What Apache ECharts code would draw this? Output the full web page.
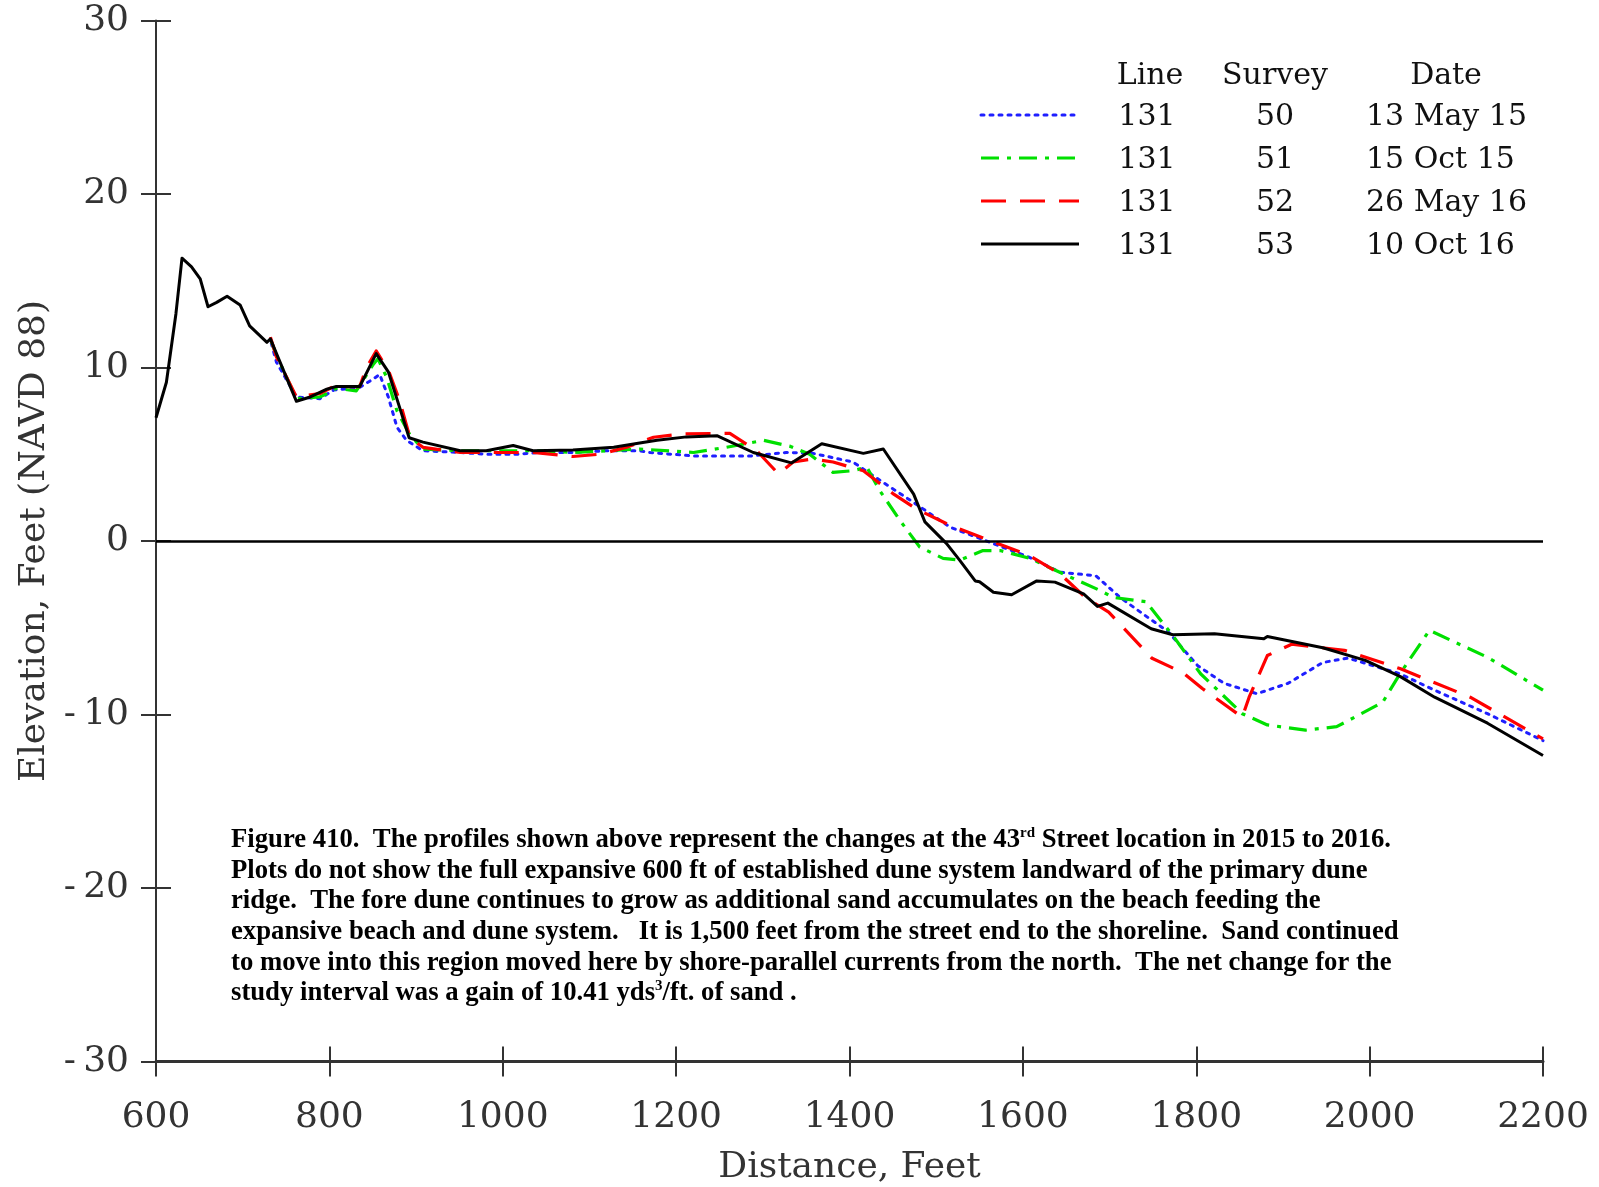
<!DOCTYPE html>
<html>
<head>
<meta charset="utf-8">
<script src="https://cdn.jsdelivr.net/npm/echarts@6/dist/echarts.min.js"></script>
<style>
html,body{margin:0;padding:0;background:#fff;}
#chart{width:1599px;height:1187px;}
</style>
</head>
<body>
<div id="chart"></div>
<script>
// ---- data (Distance, Feet / Elevation, Feet NAVD 88) ----
const xTicks = [600, 800, 1000, 1200, 1400, 1600, 1800, 2000, 2200];
const yTicks = [-30, -20, -10, 0, 10, 20, 30];

// Survey 50, 13 May 15 (blue dotted)
const dist50 = [733, 739, 762, 789, 805, 835, 851, 858, 868, 878, 889, 908, 951, 981, 1016, 1043, 1081, 1120, 1158, 1170, 1220, 1286, 1327, 1358, 1404, 1435, 1470, 1516, 1566, 1608, 1643, 1684, 1712, 1744, 1767, 1802, 1832, 1870, 1906, 1946, 1975, 2035, 2075, 2136, 2200];
const elev50 = [11.4, 10.3, 8.3, 8.2, 8.7, 8.85, 9.35, 9.6, 8.3, 6.55, 5.8, 5.2, 5.1, 5.0, 5.0, 5.1, 5.1, 5.2, 5.2, 5.1, 4.9, 4.9, 5.1, 5.05, 4.55, 3.5, 2.35, 0.8, -0.15, -0.95, -1.8, -2.0, -3.25, -4.4, -5.2, -7.2, -8.2, -8.8, -8.2, -7.0, -6.75, -7.65, -8.6, -9.95, -11.5];

// Survey 51, 15 Oct 15 (green dash-dot)
const dist51 = [733, 739, 762, 789, 797, 808, 831, 851, 856, 866, 878, 893, 908, 951, 1004, 1043, 1081, 1120, 1158, 1220, 1258, 1301, 1332, 1354, 1381, 1404, 1420, 1435, 1458, 1481, 1508, 1527, 1554, 1574, 1608, 1651, 1689, 1704, 1742, 1773, 1805, 1853, 1882, 1926, 1962, 2015, 2035, 2069, 2136, 2200];
const elev51 = [11.5, 10.7, 8.2, 8.3, 8.5, 8.8, 8.65, 10.2, 10.5, 9.45, 7.5, 6.1, 5.3, 5.2, 5.2, 5.2, 5.1, 5.2, 5.3, 5.1, 5.4, 5.8, 5.45, 5.0, 3.95, 4.05, 4.25, 2.9, 1.2, -0.35, -1.0, -1.1, -0.55, -0.55, -1.0, -2.0, -2.85, -3.25, -3.5, -5.45, -7.65, -9.95, -10.6, -10.9, -10.7, -9.3, -7.65, -5.15, -6.7, -8.6];

// Survey 52, 26 May 16 (red dashed)
const dist52 = [732, 739, 762, 789, 805, 835, 843, 854, 868, 881, 893, 908, 951, 1004, 1035, 1081, 1112, 1143, 1174, 1208, 1262, 1293, 1318, 1335, 1358, 1381, 1416, 1451, 1477, 1516, 1562, 1608, 1643, 1672, 1699, 1749, 1785, 1807, 1853, 1861, 1882, 1910, 1971, 2035, 2116, 2200];
const elev52 = [11.75, 10.6, 8.3, 8.5, 8.9, 8.9, 10.0, 10.95, 9.85, 8.1, 5.95, 5.4, 5.1, 5.1, 5.1, 4.87, 5.0, 5.4, 5.98, 6.17, 6.2, 5.2, 3.87, 4.55, 4.73, 4.55, 4.05, 2.7, 1.85, 0.9, 0.03, -0.85, -1.9, -3.25, -4.1, -6.76, -7.6, -8.5, -10.15, -9.0, -6.6, -5.95, -6.3, -7.35, -9.0, -11.4];

// Survey 53, 10 Oct 16 (black solid)
const dist53 = [600, 612, 623, 630, 641, 651, 660, 670, 682, 697, 708, 728, 732, 739, 762, 778, 797, 808, 835, 854, 868, 881, 892, 908, 951, 981, 1012, 1035, 1081, 1128, 1158, 1178, 1212, 1247, 1289, 1333, 1368, 1416, 1439, 1474, 1487, 1512, 1527, 1545, 1550, 1566, 1587, 1616, 1637, 1670, 1686, 1698, 1748, 1773, 1821, 1878, 1882, 1946, 1995, 2035, 2075, 2136, 2200];
const elev53 = [7.1, 9.15, 13.1, 16.3, 15.8, 15.1, 13.5, 13.75, 14.1, 13.6, 12.4, 11.45, 11.65, 10.8, 8.05, 8.3, 8.75, 8.9, 8.9, 10.8, 9.75, 7.7, 5.95, 5.7, 5.2, 5.2, 5.5, 5.2, 5.25, 5.4, 5.65, 5.8, 6.0, 6.07, 5.1, 4.5, 5.6, 5.05, 5.3, 2.7, 1.1, -0.15, -1.1, -2.3, -2.35, -2.95, -3.1, -2.3, -2.37, -3.05, -3.77, -3.58, -5.06, -5.4, -5.35, -5.63, -5.5, -6.15, -6.88, -7.8, -9.0, -10.5, -12.36];

const legendHeader = ['Line', 'Survey', 'Date'];
const legendLine = ['131', '131', '131', '131'];
const legendSurvey = ['50', '51', '52', '53'];
const legendDate = ['13 May 15', '15 Oct 15', '26 May 16', '10 Oct 16'];

const captionLines = [
  'Figure 410.  The profiles shown above represent the changes at the 43{sup|rd} Street location in 2015 to 2016.',
  'Plots do not show the full expansive 600 ft of established dune system landward of the primary dune',
  'ridge.  The fore dune continues to grow as additional sand accumulates on the beach feeding the',
  'expansive beach and dune system.   It is 1,500 feet from the street end to the shoreline.  Sand continued',
  'to move into this region moved here by shore-parallel currents from the north.  The net change for the',
  'study interval was a gain of 10.41 yds{sup|3}/ft. of sand .'
];

// ---- styles ----
const styles = [
  {color: '#1f1fff', width: 3, type: [3, 6], cap: 'round'},
  {color: '#00e000', width: 3.2, type: [18, 8, 4, 8], cap: 'butt'},
  {color: '#ff0000', width: 3.2, type: [25, 14], cap: 'butt'},
  {color: '#000000', width: 3, type: 'solid', cap: 'butt'}
];

function pairs(xs, ys) { return xs.map((x, i) => [x, ys[i]]); }
const seriesData = [pairs(dist50, elev50), pairs(dist51, elev51), pairs(dist52, elev52), pairs(dist53, elev53)];

const serif = 'DejaVu Serif';
const axisColor = '#333';

const chart = echarts.init(document.getElementById('chart'), null, {renderer: 'canvas'});

// legend graphics
const legendGraphics = [];
const hdrY = 76;
const rowY = [117, 160, 203, 246];
const lineCols = [1150, 1275];
const dateCenter = 1446, dateLeft = 1366;
const lgFont = '30px "DejaVu Serif"';
legendGraphics.push({type: 'text', x: lineCols[0], y: hdrY, style: {text: legendHeader[0], font: lgFont, fill: '#111', align: 'center', verticalAlign: 'middle'}});
legendGraphics.push({type: 'text', x: lineCols[1], y: hdrY, style: {text: legendHeader[1], font: lgFont, fill: '#111', align: 'center', verticalAlign: 'middle'}});
legendGraphics.push({type: 'text', x: dateCenter, y: hdrY, style: {text: legendHeader[2], font: lgFont, fill: '#111', align: 'center', verticalAlign: 'middle'}});
rowY.forEach((ry, i) => {
  const s = styles[i];
  legendGraphics.push({type: 'line', shape: {x1: 981, y1: ry - 2, x2: 1079, y2: ry - 2},
    style: {stroke: s.color, lineWidth: s.width, lineDash: s.type === 'solid' ? null : s.type, lineCap: s.cap}});
  legendGraphics.push({type: 'text', x: lineCols[0] - 3, y: ry, style: {text: legendLine[i], font: lgFont, fill: '#111', align: 'center', verticalAlign: 'middle'}});
  legendGraphics.push({type: 'text', x: lineCols[1], y: ry, style: {text: legendSurvey[i], font: lgFont, fill: '#111', align: 'center', verticalAlign: 'middle'}});
  legendGraphics.push({type: 'text', x: dateLeft, y: ry, style: {text: legendDate[i], font: lgFont, fill: '#111', align: 'left', verticalAlign: 'middle'}});
});

const captionGraphic = {
  type: 'text', x: 231, y: 825,
  style: {
    text: captionLines.join('\n'),
    fontFamily: 'Liberation Serif', fontWeight: 'bold', fontSize: 26.7, lineHeight: 30.6,
    fill: '#000', align: 'left', verticalAlign: 'top',
    rich: {
      sup: {fontFamily: 'Liberation Serif', fontWeight: 'bold', fontSize: 15, lineHeight: 30.6, verticalAlign: 'top', padding: [1, 0, 0, 0], fill: '#000'}
    }
  }
};

const commonX = {type: 'value', min: 600, max: 2200, interval: 200, gridIndex: 0};
const commonY = {type: 'value', min: -30, max: 30, interval: 10, gridIndex: 0};

const option = {
  animation: false,
  backgroundColor: '#fff',
  grid: {left: 156, right: 56, top: 20.4, bottom: 125.4, containLabel: false, outerBoundsMode: 'none'},
  xAxis: [
    Object.assign({}, commonX, {
      position: 'bottom',
      name: 'Distance, Feet', nameLocation: 'middle', nameGap: 88,
      nameTextStyle: {fontFamily: serif, fontSize: 36, color: axisColor},
      axisLine: {show: true, onZero: false, lineStyle: {color: axisColor, width: 3}},
      axisTick: {show: true, inside: false, length: 15, lineStyle: {color: axisColor, width: 2}},
      axisLabel: {show: true, margin: 38, fontFamily: serif, fontSize: 36, color: axisColor,
        formatter: v => xTicks.includes(v) ? String(v) : ''},
      splitLine: {show: false}
    }),
    Object.assign({}, commonX, {
      position: 'bottom',
      axisLine: {show: false, onZero: false},
      axisTick: {show: true, inside: true, length: 15, lineStyle: {color: axisColor, width: 2}},
      axisLabel: {show: false},
      splitLine: {show: false}
    })
  ],
  yAxis: [
    Object.assign({}, commonY, {
      position: 'left',
      name: 'Elevation, Feet (NAVD 88)', nameLocation: 'middle', nameGap: 99, nameRotate: 90,
      nameTextStyle: {fontFamily: serif, fontSize: 36, color: axisColor},
      axisLine: {show: true, onZero: false, lineStyle: {color: axisColor, width: 2}},
      axisTick: {show: true, inside: false, length: 15, lineStyle: {color: axisColor, width: 2}},
      axisLabel: {show: true, margin: 27, fontFamily: serif, fontSize: 36, color: axisColor,
        formatter: v => yTicks.includes(v) ? String(v).replace('-', '-\u2009') : ''},
      splitLine: {show: false}
    }),
    Object.assign({}, commonY, {
      position: 'left',
      axisLine: {show: false, onZero: false},
      axisTick: {show: true, inside: true, length: 15, lineStyle: {color: axisColor, width: 2}},
      axisLabel: {show: false},
      splitLine: {show: false}
    })
  ],
  series: seriesData.map((d, i) => {
    const s = styles[i];
    const ser = {
      type: 'line', xAxisIndex: 0, yAxisIndex: 0, data: d,
      showSymbol: false, symbol: 'none', smooth: false, silent: true,
      lineStyle: {color: s.color, width: s.width, type: s.type, cap: s.cap, join: 'round'},
      z: 2 + i
    };
    if (i === 3) {
      ser.markLine = {
        silent: true, symbol: 'none', label: {show: false},
        lineStyle: {color: '#000', width: 2.5, type: 'solid'},
        data: [{yAxis: 0}]
      };
    }
    return ser;
  }),
  graphic: legendGraphics.concat([captionGraphic])
};

chart.setOption(option);
</script>
</body>
</html>
